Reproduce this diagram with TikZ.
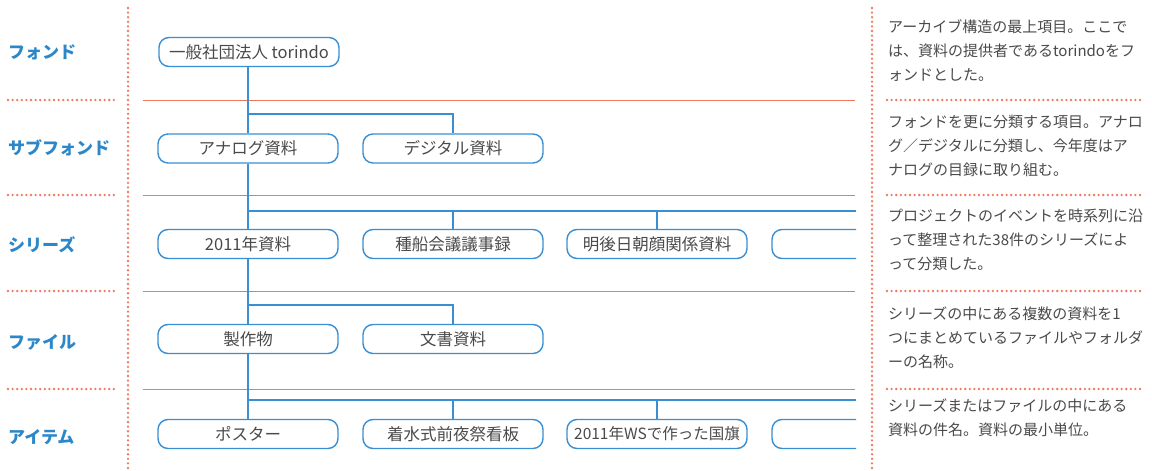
\documentclass[tikz,border=0pt]{standalone}
\usepackage{fontspec}
\setmainfont{Noto Sans CJK JP}
\definecolor{nodeblue}{HTML}{3A8ED2}
\definecolor{labblue}{HTML}{2B87C8}
\definecolor{sepor}{HTML}{F07A60}
\definecolor{txtgray}{HTML}{4A4A4A}
\begin{document}
\begin{tikzpicture}[x=1pt,y=-1pt,
  box/.style={draw=nodeblue, line width=1.4pt, rounded corners=10pt, minimum width=180pt, minimum height=29pt, inner sep=0pt, font=\fontsize{16.5}{18}\selectfont, text=txtgray},
  conn/.style={draw=nodeblue, line width=1.4pt},
  sepline/.style={draw=sepor, line width=1pt},
  dots/.style={draw=sepor, line width=2.6pt, line cap=round, dash pattern=on 0pt off 4.6pt},
  lab/.style={anchor=west, text=labblue, font=\fontsize{17}{18}\selectfont\bfseries, inner sep=0pt},
  desc/.style={anchor=north west, inner sep=0pt, align=left, text=txtgray, font=\fontsize{15}{24}\selectfont}]
\useasboundingbox[fill=white] (0,0) rectangle (1152,471);

% dotted separators
\draw[dots] (128,8) -- (128,470);
\draw[dots] (872,8) -- (872,470);
\foreach \yy in {100,195,291,389}{
  \draw[dots] (8,\yy) -- (116,\yy);
  \draw[dots] (887,\yy) -- (1144,\yy);
  \draw[sepline] (143,\yy) -- (855,\yy);
}

% level labels
\node[lab] (l1) at (8,52) {フォンド};
\node[lab] (l2) at (8,148) {サブフォンド};
\node[lab] (l3) at (8,245) {シリーズ};
\node[lab] (l4) at (8,342) {ファイル};
\node[lab] (l5) at (8,437) {アイテム};

% boxes
\node[box] (f) at (249,52) {一般社団法人 torindo};
\node[box] (a1) at (248,148.5) {アナログ資料};
\node[box] (a2) at (453,148.5) {デジタル資料};
\node[box] (s1) at (248,244) {2011年資料};
\node[box] (s2) at (453,244) {種船会議議事録};
\node[box] (s3) at (657,244) {明後日朝顔関係資料};
\node[box] (p1) at (248,339) {製作物};
\node[box] (p2) at (453,339) {文書資料};
\node[box] (i1) at (248,434) {ポスター};
\node[box] (i2) at (453,434) {着水式前夜祭看板};
\node[box, font=\fontsize{15.5}{18}\selectfont] (i3) at (657,434) {2011年WSで作った国旗};

% clipped boxes
\coordinate (s4a) at (856,229.5);
\coordinate (s4b) at (856,258.5);
\coordinate (i4a) at (856,419.5);
\coordinate (i4b) at (856,448.5);
\draw[conn, rounded corners=10pt] (s4a) -- (772,229.5) -- (772,258.5) -- (s4b);
\draw[conn, rounded corners=10pt] (i4a) -- (772,419.5) -- (772,448.5) -- (i4b);

% connectors
\coordinate (j2) at (248,114);
\coordinate (j3) at (248,211);
\coordinate (e3) at (856,211);
\coordinate (j4) at (248,305);
\coordinate (j5) at (248,400);
\coordinate (e5) at (856,400);
\draw[conn] (f.south -| a1) -- (a1.north);
\draw[conn] (j2) -| (a2.north);
\draw[conn] (a1.south) -- (s1.north);
\draw[conn] (j3) -- (e3);
\draw[conn] (s2.north) -- (s2.north |- j3);
\draw[conn] (s3.north) -- (s3.north |- j3);
\draw[conn] (s1.south) -- (p1.north);
\draw[conn] (j4) -| (p2.north);
\draw[conn] (p1.south) -- (i1.north);
\draw[conn] (j5) -- (e5);
\draw[conn] (i2.north) -- (i2.north |- j5);
\draw[conn] (i3.north) -- (i3.north |- j5);

% descriptions
\node[desc] (d1) at (888,19.5) {アーカイブ構造の最上項目。ここで\\は、資料の提供者であるtorindoをフ\\ォンドとした。};
\node[desc] (d2) at (888,114.5) {フォンドを更に分類する項目。アナロ\\グ／デジタルに分類し、今年度はア\\ナログの目録に取り組む。};
\node[desc] (d3) at (888,208.5) {プロジェクトのイベントを時系列に沿\\って整理された38件のシリーズによ\\って分類した。};
\node[desc] (d4) at (888,306.5) {シリーズの中にある複数の資料を1\\つにまとめているファイルやフォルダ\\ーの名称。};
\node[desc] (d5) at (888,398.5) {シリーズまたはファイルの中にある\\資料の件名。資料の最小単位。};
\end{tikzpicture}
\end{document}
